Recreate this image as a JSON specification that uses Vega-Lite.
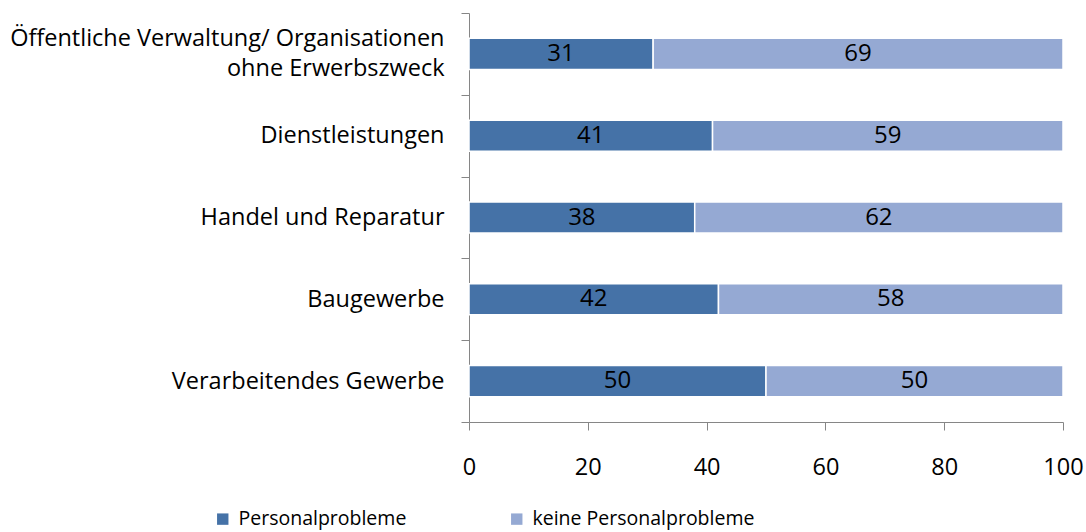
{
  "$schema": "https://vega.github.io/schema/vega-lite/v6.json",
  "width": 594,
  "height": 409,
  "autosize": {"type": "none"},
  "padding": {"left": 469, "top": 13, "right": 23, "bottom": 110},
  "background": "white",
  "config": {
    "view": {"stroke": null},
    "font": "Open Sans",
    "axis": {"labelFont": "Open Sans", "labelFontSize": 23.5, "labelColor": "#000000", "domainColor": "#868686", "tickColor": "#868686", "domainWidth": 1, "tickWidth": 1, "grid": false, "title": null},
    "legend": {"labelFont": "Open Sans", "labelFontSize": 19.5, "labelColor": "#000000"}
  },
  "data": {
    "values": [
      {"Branche": "Öffentliche Verwaltung/ Organisationen ohne Erwerbszweck", "Gruppe": "Personalprobleme", "Wert": 31},
      {"Branche": "Öffentliche Verwaltung/ Organisationen ohne Erwerbszweck", "Gruppe": "keine Personalprobleme", "Wert": 69},
      {"Branche": "Dienstleistungen", "Gruppe": "Personalprobleme", "Wert": 41},
      {"Branche": "Dienstleistungen", "Gruppe": "keine Personalprobleme", "Wert": 59},
      {"Branche": "Handel und Reparatur", "Gruppe": "Personalprobleme", "Wert": 38},
      {"Branche": "Handel und Reparatur", "Gruppe": "keine Personalprobleme", "Wert": 62},
      {"Branche": "Baugewerbe", "Gruppe": "Personalprobleme", "Wert": 42},
      {"Branche": "Baugewerbe", "Gruppe": "keine Personalprobleme", "Wert": 58},
      {"Branche": "Verarbeitendes Gewerbe", "Gruppe": "Personalprobleme", "Wert": 50},
      {"Branche": "Verarbeitendes Gewerbe", "Gruppe": "keine Personalprobleme", "Wert": 50}
    ]
  },
  "transform": [
    {"calculate": "datum.Gruppe == 'Personalprobleme' ? 0 : 1", "as": "Reihenfolge"},
    {"stack": "Wert", "groupby": ["Branche"], "sort": [{"field": "Reihenfolge", "order": "ascending"}], "as": ["v0", "v1"]},
    {"calculate": "(datum.v0 + datum.v1) / 2", "as": "mitte"}
  ],
  "encoding": {
    "y": {
      "field": "Branche", "type": "nominal", "sort": null,
      "scale": {"paddingInner": 0, "paddingOuter": 0},
      "axis": {
        "tickBand": "extent", "tickSize": 8, "labelPadding": 17,
        "labelExpr": "datum.label == 'Öffentliche Verwaltung/ Organisationen ohne Erwerbszweck' ? ['Öffentliche Verwaltung/ Organisationen', 'ohne Erwerbszweck'] : datum.label",
        "labelOffset": {"condition": {"test": "datum.value == 'Öffentliche Verwaltung/ Organisationen ohne Erwerbszweck'", "value": -15}, "value": 0},
        "labelLineHeight": 30, "labelLimit": 470
      }
    }
  },
  "layer": [
    {
      "mark": {"type": "bar", "stroke": "white", "strokeWidth": 1.5, "height": {"band": 0.38}},
      "encoding": {
        "x": {"field": "v0", "type": "quantitative", "scale": {"domain": [0, 100], "nice": false}, "axis": {"values": [0, 20, 40, 60, 80, 100], "tickSize": 8, "labelPadding": 25, "labelFlush": false}},
        "x2": {"field": "v1"},
        "color": {
          "field": "Gruppe", "type": "nominal",
          "scale": {"domain": ["Personalprobleme", "keine Personalprobleme"], "range": ["#4572A7", "#95A9D3"]},
          "legend": {"title": null, "orient": "none", "direction": "horizontal", "legendX": -256, "legendY": 496, "symbolType": "square", "symbolSize": 130, "symbolStrokeWidth": 0, "labelOffset": 6, "columnPadding": 100, "labelLimit": 400}
        }
      }
    },
    {
      "mark": {"type": "text", "fontSize": 24, "color": "#000000", "baseline": "middle", "align": "center"},
      "encoding": {
        "x": {"field": "mitte", "type": "quantitative"},
        "text": {"field": "Wert", "type": "quantitative"}
      }
    }
  ]
}
